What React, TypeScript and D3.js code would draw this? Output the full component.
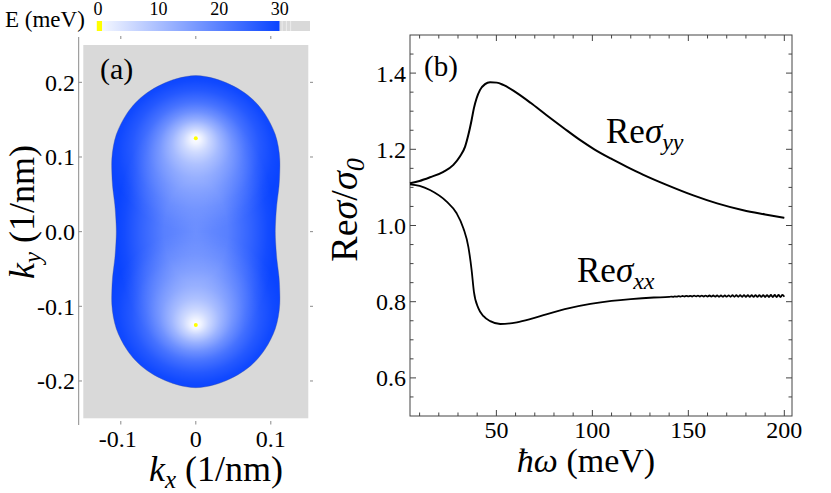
import React from "react";
import * as d3 from "d3";

// ---- panel (a): energy map in the (kx, ky) plane ----
// E = 30 meV contour, first quadrant, from the top down to the kx axis
const contourKx = [0, 0.025, 0.046, 0.065, 0.081, 0.092, 0.1, 0.106, 0.11, 0.112, 0.112, 0.111, 0.108, 0.1065, 0.106];
const contourKy = [0.209, 0.205, 0.197, 0.186, 0.172, 0.158, 0.144, 0.13, 0.114, 0.097, 0.08, 0.061, 0.036, 0.015, 0];
// band minima (E = 0)
const valleyKx = [0, 0];
const valleyKy = [0.125, -0.125];
const kxTicks = [-0.1, 0, 0.1];
const kyTicks = [0.2, 0.1, 0, -0.1, -0.2];
const energyTicks = [0, 10, 20, 30];

// ---- panel (b): Re sigma / sigma_0 against hbar omega (meV) ----
const omegaYY = [5, 10, 15.4, 22.4, 27.6, 31, 33.7, 35.4, 37.1, 38.3, 39.7, 41.5, 44.1, 46.7, 50.2, 53.6, 60, 67.8, 76, 85, 93.7, 101, 109.5, 118, 126.6, 139, 152.6, 165, 178.6, 190, 200];
const sigmaYY = [1.111, 1.117, 1.1265, 1.141, 1.159, 1.181, 1.207, 1.238, 1.277, 1.308, 1.334, 1.356, 1.371, 1.376, 1.375, 1.369, 1.35, 1.322, 1.29, 1.256, 1.224, 1.2, 1.176, 1.154, 1.133, 1.106, 1.079, 1.058, 1.04, 1.029, 1.02];

const omegaXX = [5, 10, 15.4, 24.1, 29.3, 32.8, 35.4, 37.1, 38.3, 40.6, 43.3, 46.8, 52, 60.7, 68, 76, 88, 99, 110, 120, 132,
  140, 141, 142, 143, 144, 145, 146, 147, 148, 149, 150, 151, 152, 153, 154, 155, 156, 157, 158, 159, 160,
  161, 162, 163, 164, 165, 166, 167, 168, 169, 170, 171, 172, 173, 174, 175, 176, 177, 178, 179, 180,
  181, 182, 183, 184, 185, 186, 187, 188, 189, 190, 191, 192, 193, 194, 195, 196, 197, 198, 199, 200];
const sigmaXX = [1.108, 1.104, 1.093, 1.0625, 1.032, 0.993, 0.944, 0.883, 0.826, 0.783, 0.762, 0.749, 0.7415, 0.746, 0.755, 0.767, 0.783, 0.794, 0.802, 0.807, 0.811,
  0.8125, 0.8135, 0.8128, 0.814, 0.8132, 0.8145, 0.8135, 0.815, 0.8137, 0.8152, 0.8138, 0.8155, 0.8137, 0.8157, 0.8138, 0.8158, 0.8137, 0.816, 0.8136, 0.8162, 0.8135,
  0.8163, 0.8134, 0.8164, 0.8133, 0.8165, 0.8132, 0.8166, 0.8132, 0.8167, 0.8131, 0.8168, 0.813, 0.8169, 0.813, 0.817, 0.8129, 0.817, 0.8128, 0.8171, 0.8127,
  0.8172, 0.8127, 0.8172, 0.8126, 0.8173, 0.8125, 0.8174, 0.8125, 0.8174, 0.8124, 0.8175, 0.8123, 0.8176, 0.8123, 0.8176, 0.8122, 0.8177, 0.8122, 0.8177, 0.813];
const omegaTicks = [50, 100, 150, 200];
const sigmaTicks = [0.6, 0.8, 1.0, 1.2, 1.4];

const FONT = "Liberation Serif, Times New Roman, DejaVu Serif, serif";
const BLUE = "#0a44ff";
const GREY = "#d9d9d9";
const AXIS_A = "#8a8a8a";
const AXIS_B = "#444";
// white glow around each valley and in the neck (offset, opacity)
const valleyGlow = [[0, 1], [0.06, 0.93], [0.15, 0.76], [0.28, 0.56], [0.42, 0.39], [0.58, 0.24], [0.75, 0.11], [0.9, 0.03], [1, 0]];
const neckGlow = [[0, 0.4], [0.4, 0.32], [0.7, 0.16], [0.9, 0.04], [1, 0]];

const T = (props: any) => <text fontFamily={FONT} {...props} style={{ fontFamily: FONT }} />;

const App = () => {
  // ---------- panel (a) ----------
  const kx = d3.scaleLinear().domain([-0.15, 0.15]).range([83.3, 308.3]);
  const ky = d3.scaleLinear().domain([-0.25, 0.25]).range([418.3, 45]);
  const px = kx(0.1) - kx(0);

  const quad = contourKx.map((x, i) => [x, contourKy[i]]);
  const right = quad.concat(quad.slice(0, -1).reverse().map(([x, y]) => [x, -y]));
  const left = right.slice(1, -1).reverse().map(([x, y]) => [-x, y]);
  const shape = d3.line<number[]>()
    .x((d) => kx(d[0]))
    .y((d) => ky(d[1]))
    .curve(d3.curveCatmullRomClosed)(right.concat(left)) || "";

  const cb = d3.scaleLinear().domain([0, 35]).range([98, 310]);

  // ---------- panel (b) ----------
  const x = d3.scaleLinear().domain([5, 204]).range([410, 792]);
  const y = d3.scaleLinear().domain([0.5, 1.5]).range([416, 35]);
  const lineYY = d3.line<number>().x((d) => x(d)).y((d, i) => y(sigmaYY[i])).curve(d3.curveMonotoneX)(omegaYY) || "";
  const lineXX = d3.line<number>().x((d) => x(d)).y((d, i) => y(sigmaXX[i])).curve(d3.curveMonotoneX)(omegaXX) || "";
  const minorX = d3.range(10, 201, 10);
  const minorY = d3.range(11, 30).map((i) => i * 0.05);

  return (
    <svg width={831} height={493} fontFamily={FONT}
      style={{ position: "absolute", left: 0, top: 0, fontFamily: FONT }}>
      <defs>
        <clipPath id="pocket"><path d={shape} /></clipPath>
        <radialGradient id="neck">
          {neckGlow.map(([o, a]) => <stop key={o} offset={o} stopColor="#fff" stopOpacity={a} />)}
        </radialGradient>
        {valleyKy.map((v, i) => (
          <radialGradient key={i} id={`glow${i}`} fx={0.5} fy={v > 0 ? 0.405 : 0.595}>
            {valleyGlow.map(([o, a]) => <stop key={o} offset={o} stopColor="#fff" stopOpacity={a} />)}
          </radialGradient>
        ))}
        <linearGradient id="cbar">
          <stop offset={0} stopColor="#f4f7ff" />
          <stop offset={1} stopColor={BLUE} />
        </linearGradient>
      </defs>

      {/* ===== panel (a) ===== */}
      <rect x={kx(-0.15)} y={ky(0.25)} width={kx(0.15) - kx(-0.15)} height={ky(-0.25) - ky(0.25)} fill={GREY} />
      <path d={shape} fill={BLUE} stroke="#3a4f9a" strokeWidth={0.6} strokeOpacity={0.6} />
      <g clipPath="url(#pocket)">
        <ellipse cx={kx(0)} cy={ky(0)} rx={px * 1.06} ry={px * 1.7} fill="url(#neck)" />
        {valleyKy.map((v, i) => (
          <ellipse key={i} cx={kx(valleyKx[i])} cy={ky(v - Math.sign(v) * 0.02)}
            rx={px * 1.14} ry={px * 1.05} fill={`url(#glow${i})`} />
        ))}
      </g>
      {valleyKy.map((v, i) => <circle key={i} cx={kx(valleyKx[i])} cy={ky(v)} r={2} fill="#ffff00" />)}

      <line x1={78.7} x2={78.7} y1={37} y2={425} stroke={AXIS_A} />
      {kyTicks.map((t) => (
        <g key={t}>
          <line x1={78.7} x2={82} y1={ky(t)} y2={ky(t)} stroke={AXIS_A} />
          <line x1={310} x2={313} y1={ky(t)} y2={ky(t)} stroke={AXIS_A} />
          <T x={75} y={ky(t)} dy="0.35em" textAnchor="end" fontSize={24}>{t.toFixed(1)}</T>
        </g>
      ))}
      {kxTicks.map((t) => (
        <g key={t}>
          <line x1={kx(t)} x2={kx(t)} y1={36} y2={39} stroke={AXIS_A} />
          <line x1={kx(t)} x2={kx(t)} y1={421} y2={424.5} stroke={AXIS_A} />
          <T x={kx(t) - (t < 0 ? 3 : 0)} y={446.5} textAnchor="middle" fontSize={24}>{t === 0 ? "0" : t.toFixed(1)}</T>
        </g>
      ))}
      <T x={100} y={79} fontSize={30}>(a)</T>
      <T x={216} y={481} textAnchor="middle" fontSize={36}>
        <tspan fontStyle="italic">k</tspan>
        <tspan fontStyle="italic" fontSize={25} dy={7}>x</tspan>
        <tspan dy={-7}> (1/nm)</tspan>
      </T>
      <T transform="translate(34,212) rotate(-90)" textAnchor="middle" fontSize={36}>
        <tspan fontStyle="italic">k</tspan>
        <tspan fontStyle="italic" fontSize={25} dy={7}>y</tspan>
        <tspan dy={-7}> (1/nm)</tspan>
      </T>

      {/* colour bar */}
      <rect x={cb(-0.2)} y={21} width={cb(0.7) - cb(-0.2)} height={10} fill="#ffff00" />
      <rect x={cb(0.7)} y={21} width={cb(30) - cb(0.7)} height={10} fill="url(#cbar)" />
      <rect x={cb(30)} y={21} width={cb(35) - cb(30)} height={10} fill={GREY} />
      {[30.4, 31.1, 31.8].map((e) => <line key={e} x1={cb(e)} x2={cb(e)} y1={21} y2={31} stroke="#ececec" />)}
      {energyTicks.map((t) => <T key={t} x={cb(t)} y={15} textAnchor="middle" fontSize={18}>{t}</T>)}
      <T x={5} y={27} fontSize={23}>E (meV)</T>

      {/* ===== panel (b) ===== */}
      <rect x={x(5)} y={y(1.5)} width={x(204) - x(5)} height={y(0.5) - y(1.5)} fill="none" stroke={AXIS_B} />
      {minorX.map((t) => {
        const len = omegaTicks.includes(t) ? 6 : 3.5;
        return (
          <g key={t}>
            <line x1={x(t)} x2={x(t)} y1={y(0.5)} y2={y(0.5) - len} stroke={AXIS_B} />
            <line x1={x(t)} x2={x(t)} y1={y(1.5)} y2={y(1.5) + len} stroke={AXIS_B} />
          </g>
        );
      })}
      {minorY.map((t) => {
        const len = sigmaTicks.some((m) => Math.abs(m - t) < 1e-6) ? 6 : 3.5;
        return (
          <g key={t}>
            <line x1={x(5)} x2={x(5) + len} y1={y(t)} y2={y(t)} stroke={AXIS_B} />
            <line x1={x(204)} x2={x(204) - len} y1={y(t)} y2={y(t)} stroke={AXIS_B} />
          </g>
        );
      })}
      {sigmaTicks.map((t) => <T key={t} x={406} y={y(t)} dy="0.35em" textAnchor="end" fontSize={24}>{t.toFixed(1)}</T>)}
      {omegaTicks.map((t) => <T key={t} x={x(t)} y={438} textAnchor="middle" fontSize={24}>{t}</T>)}

      <path d={lineYY} fill="none" stroke="#000" strokeWidth={2} />
      <path d={lineXX} fill="none" stroke="#000" strokeWidth={1.8} />

      <T x={424} y={76} fontSize={29}>(b)</T>
      <T x={606} y={143} fontSize={35}>
        Re<tspan fontStyle="italic">σ</tspan>
        <tspan fontStyle="italic" fontSize={24} dy={7}>yy</tspan>
      </T>
      <T x={577} y={282} fontSize={35}>
        Re<tspan fontStyle="italic">σ</tspan>
        <tspan fontStyle="italic" fontSize={24} dy={7}>xx</tspan>
      </T>
      <T x={586} y={472} textAnchor="middle" fontSize={34}>
        <tspan fontStyle="italic">ħω</tspan> (meV)
      </T>
      <T transform="translate(357,210) rotate(-90)" textAnchor="middle" fontSize={38}>
        Re<tspan fontStyle="italic">σ</tspan>/<tspan fontStyle="italic">σ</tspan>
        <tspan fontStyle="italic" fontSize={26} dy={7}>0</tspan>
      </T>
    </svg>
  );
};

export default App;
